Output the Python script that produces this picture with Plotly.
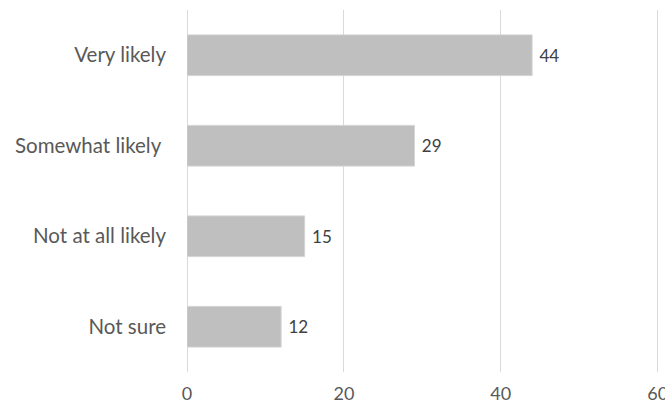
import plotly.graph_objects as go

# Survey responses (percent)
categories = ["Very likely", "Somewhat likely\u00a0", "Not at all likely", "Not sure"]
values = [44, 29, 15, 12]
x_ticks = [0, 20, 40, 60]

fig = go.Figure(
    go.Bar(
        x=values,
        y=categories,
        orientation="h",
        marker=dict(color="#bfbfbf", line=dict(color="#d4d4d4", width=1)),
        texttemplate="\u00a0%{x}",
        textposition="outside",
        textfont=dict(family="Lato, sans-serif", size=17, color="#404040"),
        cliponaxis=False,
    )
)

fig.update_layout(
    width=665,
    height=413,
    margin=dict(l=187, r=5, t=10, b=41, autoexpand=False),
    paper_bgcolor="white",
    plot_bgcolor="white",
    bargap=0.55,
    showlegend=False,
    font=dict(family="Lato, sans-serif", color="#595959"),
)

# a little headroom past 60 keeps its gridline from being clipped at the edge
fig.update_xaxes(
    range=[0, 60.3],
    tickvals=x_ticks,
    showgrid=True,
    gridcolor="#d9d9d9",
    gridwidth=1,
    zeroline=True,
    zerolinecolor="#d9d9d9",
    zerolinewidth=1,
    showline=False,
    ticks="",
    ticklabelstandoff=9,
    ticklabeloverflow="allow",
    automargin=False,
    tickfont=dict(size=18, color="#595959"),
)

fig.update_yaxes(
    categoryorder="array",
    categoryarray=categories[::-1],
    showgrid=False,
    zeroline=False,
    showline=False,
    ticks="",
    ticklabelstandoff=20,
    automargin=False,
    tickfont=dict(size=20.5, color="#595959"),
)

fig.write_html("out.html")
